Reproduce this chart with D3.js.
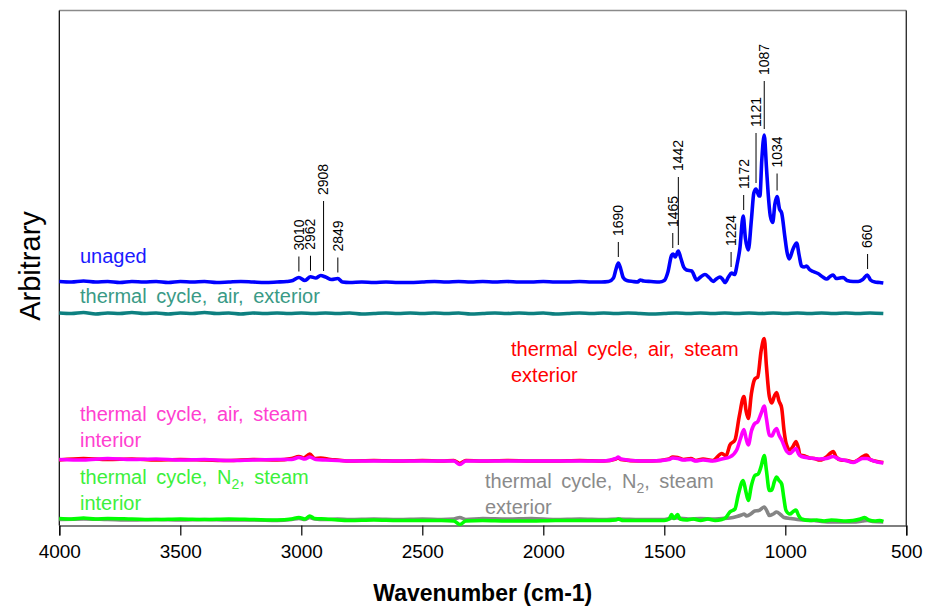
<!DOCTYPE html>
<html>
<head>
<meta charset="utf-8">
<script src="https://cdn.jsdelivr.net/npm/d3@7"></script>
<style>
  body { margin: 0; background: #fff; }
  text { font-family: Arial, "Liberation Sans", sans-serif; }
</style>
</head>
<body>
<svg id="chart" width="927" height="606"></svg>
<script>
// ---- data -----------------------------------------------------------
const xTicks = [4000, 3500, 3000, 2500, 2000, 1500, 1000, 500];

const seriesNames = [
  "unaged",
  "thermal cycle, air, exterior",
  "thermal cycle, air, steam exterior",
  "thermal cycle, air, steam interior",
  "thermal cycle, N2, steam exterior",
  "thermal cycle, N2, steam interior"
];
// vertical stacking offset of each spectrum (arbitrary units)
const seriesOffsets = [48.7, 42.4, 12.9, 12.9, 1.0, 1.0];

// [wavenumber (cm-1), intensity above the spectrum's own baseline]
const unaged = [
  [4000,0.1],[3950,0.0],[3900,0.2],[3850,0.0],[3800,0.1],[3750,-0.1],[3700,0.1],[3650,0.0],
  [3600,0.1],[3550,-0.1],[3500,0.1],[3450,0.0],[3400,0.1],[3350,-0.1],[3300,0.0],[3250,0.1],
  [3200,0.0],[3150,-0.1],[3100,0.0],[3060,0.1],[3035,0.3],[3010,0.9],[2985,0.3],[2962,1.05],
  [2940,0.8],[2920,1.3],[2900,1.0],[2875,0.5],[2849,0.7],[2830,0.0],[2800,-0.1],[2750,0.0],
  [2700,-0.1],[2650,0.0],[2600,-0.1],[2550,-0.1],[2500,0.0],[2450,0.1],[2400,0.0],[2350,0.1],
  [2300,0.0],[2250,0.1],[2200,0.0],[2150,0.1],[2100,0.0],[2050,0.0],[2000,0.1],[1950,0.0],
  [1900,0.0],[1850,0.1],[1800,0.0],[1760,0.0],[1730,0.1],[1710,0.8],[1700,2.5],[1690,3.8],
  [1680,2.6],[1670,0.9],[1655,0.3],[1630,0.1],[1610,0.0],[1600,0.4],[1585,0.2],[1555,0.1],
  [1520,0.0],[1500,0.3],[1485,2.0],[1470,5.3],[1463,5.6],[1455,5.0],[1442,6.2],[1432,4.8],
  [1420,3.0],[1408,2.4],[1387,2.2],[1366,0.4],[1350,1.0],[1332,1.5],[1315,0.9],[1298,0.1],
  [1285,0.6],[1270,1.0],[1260,0.6],[1249,-0.1],[1235,1.0],[1222,1.8],[1210,1.5],[1198,3.8],
  [1188,6.6],[1174,13.2],[1165,8.8],[1153,6.4],[1140,12.5],[1130,17.8],[1121,18.6],[1110,17.3],
  [1105,17.2],[1097,24.5],[1087,29.4],[1078,23.0],[1071,17.8],[1062,13.2],[1052,11.9],[1043,15.6],
  [1034,17.1],[1024,14.6],[1015,13.8],[1002,9.1],[993,6.0],[984,4.6],[968,6.6],[953,7.8],
  [943,5.4],[933,3.2],[922,3.0],[912,3.2],[900,2.5],[885,2.1],[865,1.7],[845,1.0],
  [829,0.6],[815,1.1],[802,1.4],[790,0.7],[775,0.8],[761,0.9],[745,0.3],[720,0.1],
  [699,0.1],[680,0.5],[661,1.4],[648,0.4],[630,0.0],[610,-0.1],[595,-0.2]
];

const airExterior = [
  [4000,0.1],[3950,0.0],[3900,0.2],[3850,-0.1],[3800,0.1],[3750,0.0],[3700,0.2],[3650,0.0],
  [3600,0.1],[3550,-0.1],[3500,0.1],[3450,0.0],[3400,0.2],[3350,0.0],[3300,0.1],[3250,-0.1],
  [3200,0.1],[3150,0.0],[3100,0.1],[3050,0.0],[3000,0.1],[2950,0.0],[2900,0.1],[2850,0.0],
  [2800,0.1],[2750,-0.1],[2700,0.0],[2650,0.1],[2600,0.0],[2550,0.1],[2500,0.0],[2450,0.1],
  [2400,0.0],[2350,0.1],[2300,-0.1],[2250,0.0],[2200,0.1],[2150,0.0],[2100,0.1],[2050,0.0],
  [2000,0.1],[1950,-0.1],[1900,0.0],[1850,0.1],[1800,0.0],[1750,0.1],[1700,0.0],[1650,0.1],
  [1600,0.0],[1550,-0.1],[1500,0.0],[1450,0.1],[1400,0.0],[1350,0.1],[1300,0.0],[1250,0.1],
  [1200,0.0],[1150,0.1],[1100,0.0],[1050,0.1],[1000,0.0],[950,0.1],[900,0.0],[850,0.1],
  [800,0.0],[750,0.1],[700,0.0],[650,0.1],[595,0.0]
];

const airSteamExterior = [
  [4000,0.2],[3900,0.5],[3800,0.3],[3700,0.4],[3600,0.2],[3500,0.3],[3400,0.2],[3300,0.1],
  [3200,0.3],[3100,0.2],[3040,0.5],[3010,0.9],[2990,0.6],[2965,1.4],[2945,0.5],[2920,0.6],
  [2880,0.3],[2850,0.2],[2800,0.0],[2700,0.1],[2600,0.0],[2500,0.1],[2420,0.0],[2370,0.1],
  [2345,-0.5],[2320,0.1],[2250,0.0],[2150,0.1],[2050,0.0],[1950,0.0],[1850,0.1],[1750,0.0],
  [1700,0.4],[1690,0.6],[1680,0.3],[1600,0.0],[1550,0.0],[1480,0.4],[1465,0.8],[1445,0.7],
  [1420,0.3],[1390,0.5],[1370,0.1],[1340,0.4],[1300,0.1],[1262,1.5],[1245,1.0],[1229,3.2],
  [1208,4.2],[1190,9.0],[1171,12.9],[1162,10.0],[1153,8.5],[1140,13.5],[1128,16.2],[1121,16.6],
  [1114,16.8],[1100,22.0],[1087,24.5],[1078,19.0],[1066,12.9],[1056,11.6],[1045,13.0],[1036,13.7],
  [1026,12.0],[1015,10.6],[1005,6.0],[997,3.6],[981,2.2],[967,3.0],[956,3.9],[945,2.4],
  [940,1.2],[920,1.0],[900,0.6],[880,0.5],[857,0.2],[830,0.8],[815,1.5],[802,1.9],
  [790,0.8],[770,0.2],[745,0.1],[719,-0.2],[700,0.2],[680,0.9],[664,1.2],[650,0.3],
  [630,0.0],[610,-0.2],[595,-0.3]
];

const airSteamInterior = [
  [4000,0.3],[3900,0.2],[3800,0.5],[3700,0.3],[3600,0.4],[3500,0.2],[3400,0.3],[3300,0.1],
  [3200,0.2],[3100,0.3],[3040,0.3],[3010,0.7],[2985,0.4],[2965,0.8],[2940,0.3],[2900,0.2],
  [2850,0.1],[2800,0.0],[2700,0.0],[2600,0.0],[2500,0.0],[2420,0.0],[2370,0.0],[2345,-0.7],
  [2320,0.0],[2250,0.0],[2150,0.0],[2050,0.0],[1950,0.0],[1850,0.0],[1750,0.0],[1700,0.5],
  [1690,0.8],[1680,0.4],[1600,0.0],[1550,0.0],[1480,0.3],[1465,0.6],[1445,0.5],[1420,0.2],
  [1390,0.3],[1370,0.0],[1340,0.2],[1300,0.0],[1262,0.4],[1229,0.8],[1201,2.2],[1185,4.5],
  [1171,6.3],[1162,4.5],[1153,3.2],[1140,6.0],[1126,7.5],[1115,7.8],[1100,9.5],[1087,11.0],
  [1078,8.5],[1066,5.2],[1056,5.0],[1045,6.0],[1036,6.5],[1026,5.2],[1015,4.2],[994,1.9],
  [981,1.5],[967,2.1],[956,2.5],[945,1.4],[933,0.9],[900,0.6],[860,0.4],[830,0.5],
  [802,0.9],[780,0.4],[750,0.1],[719,-0.3],[700,0.1],[680,0.5],[664,0.5],[640,0.1],
  [620,-0.2],[595,-0.4]
];

const n2SteamExterior = [
  [4000,0.2],[3900,0.3],[3800,0.2],[3700,0.1],[3600,0.2],[3500,0.1],[3400,0.2],[3300,0.1],
  [3200,0.1],[3100,0.0],[3040,0.2],[3010,0.4],[2985,0.2],[2965,0.6],[2945,0.3],[2900,0.2],
  [2850,0.3],[2800,0.2],[2700,0.3],[2600,0.2],[2500,0.3],[2420,0.2],[2370,0.3],[2345,0.6],
  [2320,0.2],[2250,0.4],[2150,0.3],[2050,0.4],[1950,0.2],[1850,0.3],[1750,0.2],[1690,0.3],
  [1600,0.2],[1500,0.2],[1465,0.5],[1445,0.5],[1400,0.3],[1350,0.4],[1300,0.3],[1262,0.4],
  [1229,0.5],[1200,0.8],[1181,1.1],[1170,1.3],[1160,0.9],[1140,1.4],[1126,1.9],[1110,2.0],
  [1087,2.7],[1075,1.8],[1066,1.0],[1050,1.3],[1036,1.7],[1020,1.2],[1005,0.6],[980,0.4],
  [950,0.2],[920,0.1],[880,0.0],[850,-0.2],[800,-0.3],[760,-0.3],[720,-0.3],[680,-0.1],
  [660,0.0],[640,-0.2],[595,-0.3]
];

const n2SteamInterior = [
  [4000,0.4],[3950,0.3],[3900,0.5],[3850,0.3],[3800,0.4],[3700,0.3],[3600,0.2],[3500,0.3],
  [3400,0.2],[3300,0.3],[3200,0.2],[3100,0.1],[3040,0.3],[3010,0.6],[2985,0.3],[2965,0.9],
  [2945,0.4],[2900,0.3],[2850,0.1],[2800,0.0],[2700,0.1],[2600,0.0],[2500,0.0],[2420,0.0],
  [2370,-0.1],[2345,-0.8],[2320,-0.1],[2250,0.0],[2150,-0.1],[2050,-0.1],[1950,0.0],[1850,0.0],
  [1750,0.0],[1700,0.1],[1690,0.3],[1670,0.0],[1600,0.0],[1500,0.0],[1480,0.3],[1470,1.2],
  [1460,0.4],[1445,1.2],[1435,0.3],[1410,0.1],[1380,0.3],[1350,0.0],[1320,0.3],[1290,0.0],
  [1262,0.2],[1245,0.6],[1229,1.7],[1208,2.3],[1195,5.0],[1174,8.0],[1163,5.8],[1153,4.0],
  [1140,7.0],[1126,9.0],[1112,9.3],[1100,10.8],[1087,13.0],[1078,10.0],[1066,6.0],[1056,6.1],
  [1045,7.8],[1036,8.7],[1026,8.0],[1015,7.3],[1006,4.5],[997,2.0],[981,1.3],[967,1.8],
  [956,2.1],[945,1.0],[933,0.3],[900,0.0],[870,0.1],[840,-0.1],[810,0.1],[780,0.0],
  [750,-0.1],[720,0.0],[690,0.3],[672,0.6],[655,0.1],[630,-0.1],[610,0.0],[595,-0.2]
];

// band positions marked on the unaged spectrum (cm-1)
const peakLabels = [3010, 2962, 2908, 2849, 1690, 1465, 1442, 1224, 1172, 1121, 1087, 1034, 660];

// ---- layout & style -------------------------------------------------
const W = 927, H = 606;
const plot = { left: 59.3, right: 906.3, top: 10.5, bottom: 525.5 };

const x = d3.scaleLinear().domain([4000, 500]).range([plot.left, plot.right]);
const y = d3.scaleLinear().domain([0, 103]).range([plot.bottom, plot.top]);

const seriesData = [unaged, airExterior, airSteamExterior, airSteamInterior, n2SteamExterior, n2SteamInterior];
const lineColors = ["#0000ff", "#0d8080", "#ff0000", "#ff00ff", "#858585", "#00ff00"];
const textColors = ["#1a1aff", "#3a9a86", "#ff0000", "#ff40d0", "#8a8a8a", "#3cf03c"];
// label lines, position of first baseline
const labelLines = [
  ["unaged"],
  ["thermal cycle, air, exterior"],
  ["thermal cycle, air, steam", "exterior"],
  ["thermal cycle, air, steam", "interior"],
  ["thermal cycle, N|2|, steam", "exterior"],
  ["thermal cycle, N|2|, steam", "interior"]
];
const labelAnchors = [[80, 263], [80, 303], [511, 356], [80, 421], [485, 488], [80, 484]];
const leaderLengths = [15, 15, 70, 15, 15, 15, 68, 15, 15, 50, 48, 17, 15];

const svg = d3.select("#chart");

// frame
svg.append("line").attr("x1", plot.left).attr("x2", plot.right).attr("y1", plot.top).attr("y2", plot.top)
  .attr("stroke", "#8a8a8a").attr("stroke-width", 1.6);
svg.append("line").attr("x1", plot.right).attr("x2", plot.right).attr("y1", plot.top).attr("y2", plot.bottom)
  .attr("stroke", "#333").attr("stroke-width", 1.4);
svg.append("line").attr("x1", plot.left).attr("x2", plot.left).attr("y1", plot.top).attr("y2", plot.bottom)
  .attr("stroke", "#000").attr("stroke-width", 1.2);

// x axis
const xAxis = d3.axisBottom(x).tickValues(xTicks).tickSize(10).tickPadding(9).tickFormat(d3.format("d"));
const gx = svg.append("g").attr("transform", `translate(0,${plot.bottom})`).call(xAxis);
gx.select(".domain").attr("stroke", "#000").attr("stroke-width", 1.2);
gx.selectAll(".tick line").attr("stroke", "#000").attr("stroke-width", 1.2);
gx.selectAll(".tick text").attr("fill", "#000").style("font-size", "19px")
  .style("font-family", "Arial, 'Liberation Sans', sans-serif");

// axis titles
svg.append("text").attr("x", (plot.left + plot.right) / 2).attr("y", 601)
  .attr("text-anchor", "middle").style("font-size", "23px").style("font-weight", "bold")
  .text("Wavenumber (cm-1)");
svg.append("text").attr("transform", "translate(40,266) rotate(-90)")
  .attr("text-anchor", "middle").style("font-size", "29px").text("Arbitrary");

// spectra
const drawOrder = [1, 0, 2, 3, 4, 5];
drawOrder.forEach(i => {
  const off = seriesOffsets[i];
  const line = d3.line()
    .x(d => x(d[0]))
    .y(d => y(off + d[1]))
    .curve(d3.curveMonotoneX);
  svg.append("path").datum(seriesData[i])
    .attr("fill", "none").attr("stroke", lineColors[i])
    .attr("stroke-width", 3.6).attr("stroke-linejoin", "round")
    .attr("d", line);
});

// series labels
labelLines.forEach((lines, i) => {
  const [lx, ly] = labelAnchors[i];
  lines.forEach((s, k) => {
    const t = svg.append("text").attr("x", lx).attr("y", ly + k * 26)
      .attr("fill", textColors[i]).style("font-size", "20px").style("word-spacing", "4px");
    const parts = s.split("|");
    if (parts.length === 1) { t.text(s); return; }
    t.append("tspan").text(parts[0]);
    t.append("tspan").attr("dy", 5).style("font-size", "14px").text(parts[1]);
    t.append("tspan").attr("dy", -5).text(parts[2]);
  });
});

// band markers on the unaged spectrum
function unagedAt(wn) {
  let best = unaged[0];
  unaged.forEach(p => { if (Math.abs(p[0] - wn) < Math.abs(best[0] - wn)) best = p; });
  let v = best[1];
  unaged.forEach(p => { if (Math.abs(p[0] - wn) <= 6) v = Math.max(v, p[1]); });
  return v;
}
peakLabels.forEach((wn, i) => {
  const px = x(wn);
  const bottom = y(seriesOffsets[0] + unagedAt(wn)) - 6;
  const top = bottom - leaderLengths[i];
  svg.append("line").attr("x1", px).attr("x2", px).attr("y1", top).attr("y2", bottom)
    .attr("stroke", "#000").attr("stroke-width", 1);
  svg.append("text").attr("transform", `translate(${px},${top - 6}) rotate(-90)`)
    .attr("dy", "0.35em").style("font-size", "14px").attr("fill", "#000").text(wn);
});
</script>
</body>
</html>
